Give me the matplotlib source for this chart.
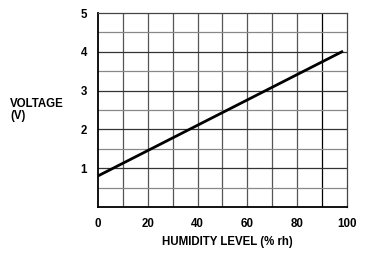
import matplotlib
matplotlib.use('Agg')
import matplotlib.pyplot as plt

# Humidity sensor output
humidity = [0, 98]
voltage = [0.8, 4.0]
x_ticks = [0, 20, 40, 60, 80, 100]
y_ticks = [1, 2, 3, 4, 5]

plt.rcParams['font.family'] = ['Liberation Sans', 'DejaVu Sans']

fig = plt.figure(figsize=(3.67, 2.6), dpi=100)
ax = fig.add_axes([0.267, 0.204, 0.678, 0.746])

# grid every 10 % and every 0.5 V
for gx in range(10, 100, 10):
    ax.axvline(gx, color='#555555' if gx != 90 else 'black', lw=0.9, zorder=1)
for gy in [0.5, 1, 1.5, 2, 2.5, 3, 3.5, 4, 4.5]:
    ax.axhline(gy, color='#333333' if gy % 1 == 0 else '#888888', lw=0.9, zorder=1)

ax.plot(humidity, voltage, color='black', lw=2.0, zorder=3)

ax.set_xlim(0, 100)
ax.set_ylim(0, 5)
ax.set_xticks(x_ticks)
ax.set_yticks(y_ticks)
ax.tick_params(length=0, labelsize=8.3, pad=8)
for lab in ax.get_xticklabels() + ax.get_yticklabels():
    lab.set_fontweight('bold')

for side in ['left', 'bottom']:
    ax.spines[side].set_linewidth(1.3)
for side in ['top', 'right']:
    ax.spines[side].set_color('#444444')
    ax.spines[side].set_linewidth(0.9)

fig.text(0.027, 0.577, 'VOLTAGE\n(V)', fontsize=8.3, fontweight='bold',
         ha='left', va='center', linespacing=1.0)
fig.text(0.62, 0.069, 'HUMIDITY LEVEL (% rh)', fontsize=8.3, fontweight='bold',
         ha='center', va='center')

fig.savefig('out.png', dpi=100)
